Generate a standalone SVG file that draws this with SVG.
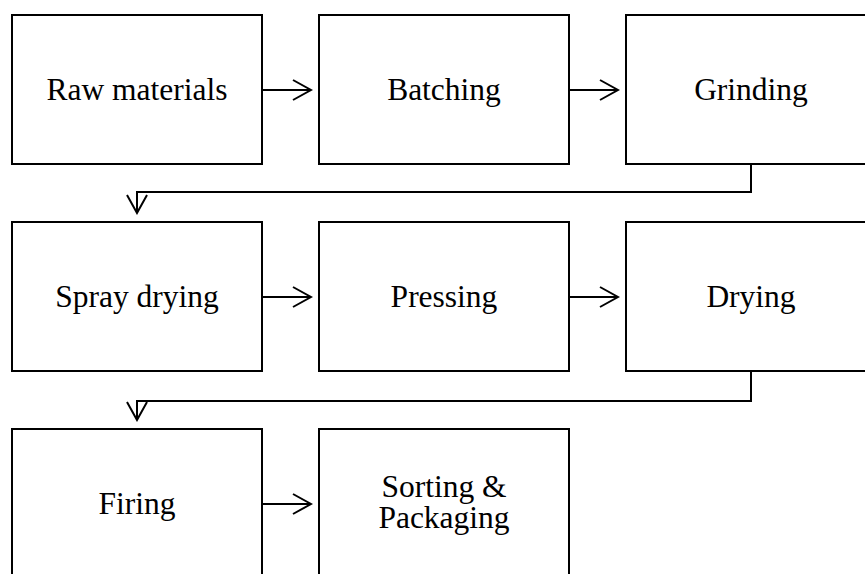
<svg xmlns="http://www.w3.org/2000/svg" width="865" height="574" viewBox="0 0 865 574">
<defs>
<style>
.box{fill:#fff;stroke:#000;stroke-width:2}
.lbl{font-family:"Liberation Serif","Times New Roman",serif;font-size:31.5px;fill:#000;text-anchor:middle}
.con{fill:none;stroke:#000;stroke-width:2}
</style>
<marker id="arr" viewBox="-22 -13 24 26" markerWidth="24" markerHeight="26" refX="0" refY="0" markerUnits="userSpaceOnUse" orient="auto">
<path d="M-18,-10 L0,0 L-18,10" fill="none" stroke="#000" stroke-width="2"/>
</marker>
</defs>
<rect width="865" height="574" fill="#fff"/>
<g id="n1"><rect class="box" x="12" y="15" width="250" height="149"/><text class="lbl" x="137" y="100">Raw materials</text></g>
<g id="n2"><rect class="box" x="319" y="15" width="250" height="149"/><text class="lbl" x="444" y="100">Batching</text></g>
<g id="n3"><rect class="box" x="626" y="15" width="250" height="149"/><text class="lbl" x="751" y="100">Grinding</text></g>
<g id="n4"><rect class="box" x="12" y="222" width="250" height="149"/><text class="lbl" x="137" y="307">Spray drying</text></g>
<g id="n5"><rect class="box" x="319" y="222" width="250" height="149"/><text class="lbl" x="444" y="307">Pressing</text></g>
<g id="n6"><rect class="box" x="626" y="222" width="250" height="149"/><text class="lbl" x="751" y="307">Drying</text></g>
<g id="n7"><rect class="box" x="12" y="429" width="250" height="160"/><text class="lbl" x="137" y="514">Firing</text></g>
<g id="n8"><rect class="box" x="319" y="429" width="250" height="160"/><text class="lbl" x="444" y="497"><tspan x="444" y="497">Sorting &amp;</tspan><tspan x="444" y="528">Packaging</tspan></text></g>
<g id="connectors">
<path class="con" d="M262,90 H311" marker-end="url(#arr)"/>
<path class="con" d="M569,90 H618" marker-end="url(#arr)"/>
<path class="con" d="M751,164 V192 H137 V213" marker-end="url(#arr)"/>
<path class="con" d="M262,297 H311" marker-end="url(#arr)"/>
<path class="con" d="M569,297 H618" marker-end="url(#arr)"/>
<path class="con" d="M751,371 V401 H137 V420" marker-end="url(#arr)"/>
<path class="con" d="M262,504 H311" marker-end="url(#arr)"/>
</g>
</svg>
